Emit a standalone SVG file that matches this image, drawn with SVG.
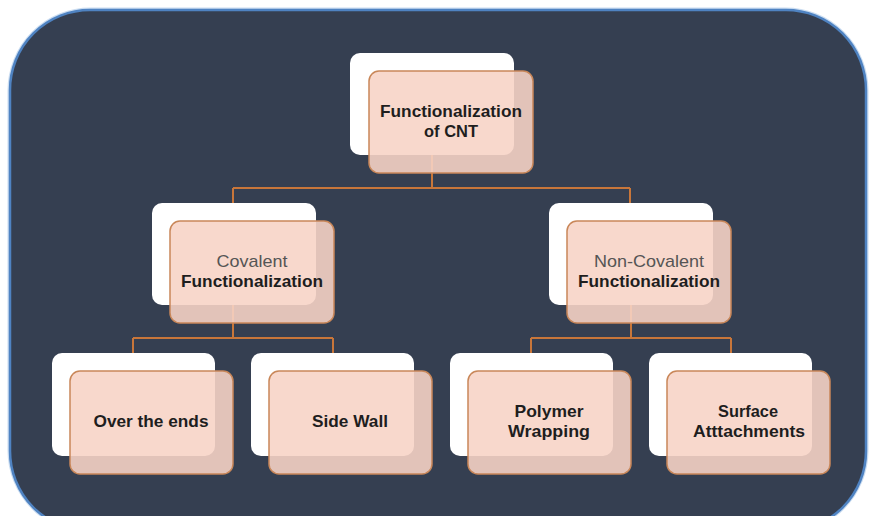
<svg xmlns="http://www.w3.org/2000/svg" width="872" height="516" viewBox="0 0 872 516">
  <defs>
    <style>
      .panel { fill: #353f51; stroke: #4f83c2; stroke-width: 2.5; }
      .glow { fill: none; stroke: #a9c6e8; stroke-width: 2; opacity: 0.6; }
      .back { fill: #ffffff; }
      .front { fill: #f7d3c6; fill-opacity: 0.89; stroke: #c98759; stroke-width: 1.5; }
      .conn { fill: none; stroke: #c8763a; stroke-width: 2; }
      .b { font-family: "Liberation Sans", Arial, sans-serif; font-weight: bold; font-size: 17px; fill: #1e1e1e; text-anchor: middle; }
      .r { font-family: "Liberation Sans", Arial, sans-serif; font-weight: normal; font-size: 17px; fill: #555555; text-anchor: middle; }
    </style>
  </defs>
  <rect width="872" height="516" fill="#ffffff"/>
  <rect class="glow" x="8.5" y="8.5" width="859" height="524" rx="82"/>
  <rect class="panel" x="10" y="10" width="856" height="521" rx="80"/>

  <g id="connectors">
    <path class="conn" d="M432 104 V188 M233 188 H630 M233 188 V210 M630 188 V210"/>
    <path class="conn" d="M233 260 V338 M133 338 H333 M133 338 V360 M333 338 V360"/>
    <path class="conn" d="M631 260 V338 M531 338 H731 M531 338 V360 M731 338 V360"/>
  </g>

  <g id="node-cnt">
    <rect class="back" x="350" y="53" width="164" height="102" rx="10"/>
    <rect class="front" x="369" y="71" width="164" height="102" rx="10"/>
    <text class="b" x="451" y="117" textLength="142" lengthAdjust="spacingAndGlyphs">Functionalization</text>
    <text class="b" x="451" y="137" textLength="54" lengthAdjust="spacingAndGlyphs">of CNT</text>
  </g>

  <g id="node-covalent">
    <rect class="back" x="152" y="203" width="164" height="102" rx="10"/>
    <rect class="front" x="170" y="221" width="164" height="102" rx="10"/>
    <text class="r" x="252" y="267" textLength="71" lengthAdjust="spacingAndGlyphs">Covalent</text>
    <text class="b" x="252" y="287" textLength="142" lengthAdjust="spacingAndGlyphs">Functionalization</text>
  </g>

  <g id="node-noncovalent">
    <rect class="back" x="549" y="203" width="164" height="102" rx="10"/>
    <rect class="front" x="567" y="221" width="164" height="102" rx="10"/>
    <text class="r" x="649" y="267" textLength="110" lengthAdjust="spacingAndGlyphs">Non-Covalent</text>
    <text class="b" x="649" y="287" textLength="142" lengthAdjust="spacingAndGlyphs">Functionalization</text>
  </g>

  <g id="node-ends">
    <rect class="back" x="52" y="353" width="163" height="103" rx="10"/>
    <rect class="front" x="70" y="371" width="163" height="103" rx="10"/>
    <text class="b" x="151" y="427" textLength="115" lengthAdjust="spacingAndGlyphs">Over the ends</text>
  </g>

  <g id="node-sidewall">
    <rect class="back" x="251" y="353" width="163" height="103" rx="10"/>
    <rect class="front" x="269" y="371" width="163" height="103" rx="10"/>
    <text class="b" x="350" y="427" textLength="76" lengthAdjust="spacingAndGlyphs">Side Wall</text>
  </g>

  <g id="node-polymer">
    <rect class="back" x="450" y="353" width="163" height="103" rx="10"/>
    <rect class="front" x="468" y="371" width="163" height="103" rx="10"/>
    <text class="b" x="549" y="417" textLength="69" lengthAdjust="spacingAndGlyphs">Polymer</text>
    <text class="b" x="549" y="437" textLength="82" lengthAdjust="spacingAndGlyphs">Wrapping</text>
  </g>

  <g id="node-surface">
    <rect class="back" x="649" y="353" width="163" height="103" rx="10"/>
    <rect class="front" x="667" y="371" width="163" height="103" rx="10"/>
    <text class="b" x="748" y="417" textLength="60" lengthAdjust="spacingAndGlyphs">Surface</text>
    <text class="b" x="749" y="437" textLength="112" lengthAdjust="spacingAndGlyphs">Atttachments</text>
  </g>
</svg>
